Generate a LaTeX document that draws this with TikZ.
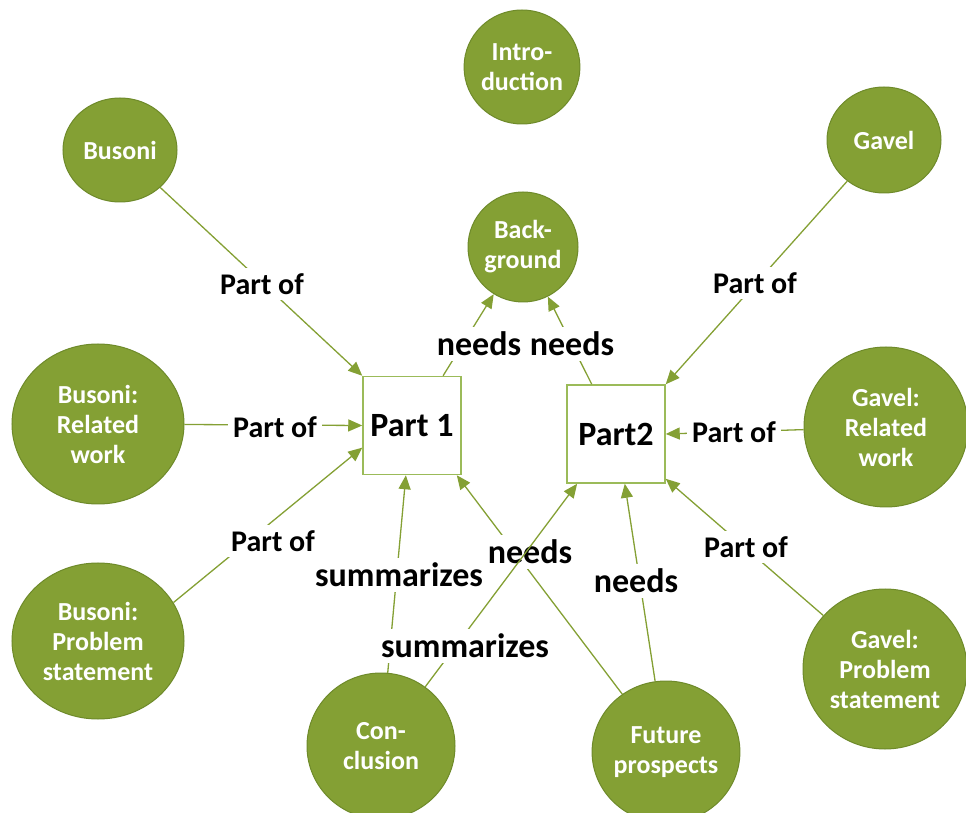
\documentclass[tikz,border=0pt]{standalone}
\usepackage{fontspec}
\setmainfont{Carlito}
\usetikzlibrary{arrows.meta,shapes.geometric}
\definecolor{ofill}{RGB}{132,160,52}
\definecolor{oborder}{RGB}{110,138,42}
\definecolor{linec}{RGB}{132,160,52}
\definecolor{boxc}{RGB}{155,187,89}
\begin{document}
\begin{tikzpicture}[x=0.5pt,y=-0.5pt,
  topic/.style={ellipse, fill=ofill, draw=oborder, line width=0.5pt, inner sep=0pt, text=white, font=\fontsize{13}{15}\selectfont\bfseries, align=center},
  partbox/.style={rectangle, draw=boxc, line width=0.75pt, minimum width=49pt, minimum height=49pt, inner sep=0pt, font=\fontsize{17}{20}\selectfont\bfseries},
  link/.style={draw=linec, line width=0.65pt, -{Triangle[length=7pt,width=6pt]}},
  lblA/.style={fill=white, inner sep=2.5pt, font=\fontsize{15}{18}\selectfont\bfseries},
  lblB/.style={fill=white, inner sep=2.5pt, font=\fontsize{17}{20}\selectfont\bfseries},
]
\useasboundingbox (0,0) rectangle (966,813);

\node[topic, minimum width=57pt, minimum height=57pt] (intro) at (522,67) {Intro-\\duction};
\node[topic, minimum width=55pt, minimum height=55pt] (bg) at (523,247) {Back-\\ground};
\node[topic, minimum width=57pt, minimum height=52pt] (bus) at (120,150) {Busoni};
\node[topic, minimum width=57pt, minimum height=53pt] (gav) at (884,140) {Gavel};
\node[topic, minimum width=86pt, minimum height=80pt] (brw) at (98,424) {Busoni:\\Related\\work};
\node[topic, minimum width=86pt, minimum height=78pt] (bps) at (98,641) {Busoni:\\Problem\\statement};
\node[topic, minimum width=82pt, minimum height=80pt] (grw) at (886,427) {Gavel:\\Related\\work};
\node[topic, minimum width=82pt, minimum height=80pt] (gps) at (885,669) {Gavel:\\Problem\\statement};
\node[topic, minimum width=74pt, minimum height=73pt] (con) at (381,746) {Con-\\clusion};
\node[topic, minimum width=73pt, minimum height=71pt] (fut) at (666,752) {Future\\prospects};

\node[partbox] (p1) at (412,425.5) {Part 1};
\node[partbox] (p2) at (616,434) {Part2};

\draw[link] (bus) -- (p1.north west) node[lblA] at (262,284) {Part of};
\draw[link] (brw) -- (p1.west) node[lblA] at (275,427) {Part of};
\draw[link] (bps.27) -- (p1.204) node[lblA] at (273,541) {Part of};
\draw[link] (con) -- (p1.263) node[lblB] at (399,575) {summarizes};
\draw[link] (fut) -- (p1.-48) node[lblB] at (530,552) {needs};
\draw[link] (con) -- (p2.232) node[lblB] at (465,646) {summarizes};
\draw[link] (fut) -- (p2.-80) node[lblB] at (636,581) {needs};
\draw[link] (p1.58) -- (bg) node[lblB] at (479,344) {needs};
\draw[link] (p2.116) -- (bg) node[lblB] at (572,344) {needs};
\draw[link] (gav) -- (p2.north east) node[lblA] at (755,283) {Part of};
\draw[link] (grw) -- (p2.east) node[lblA] at (734,432) {Part of};
\draw[link] (gps) -- (p2.-42) node[lblA] at (746,547) {Part of};
\end{tikzpicture}
\end{document}
